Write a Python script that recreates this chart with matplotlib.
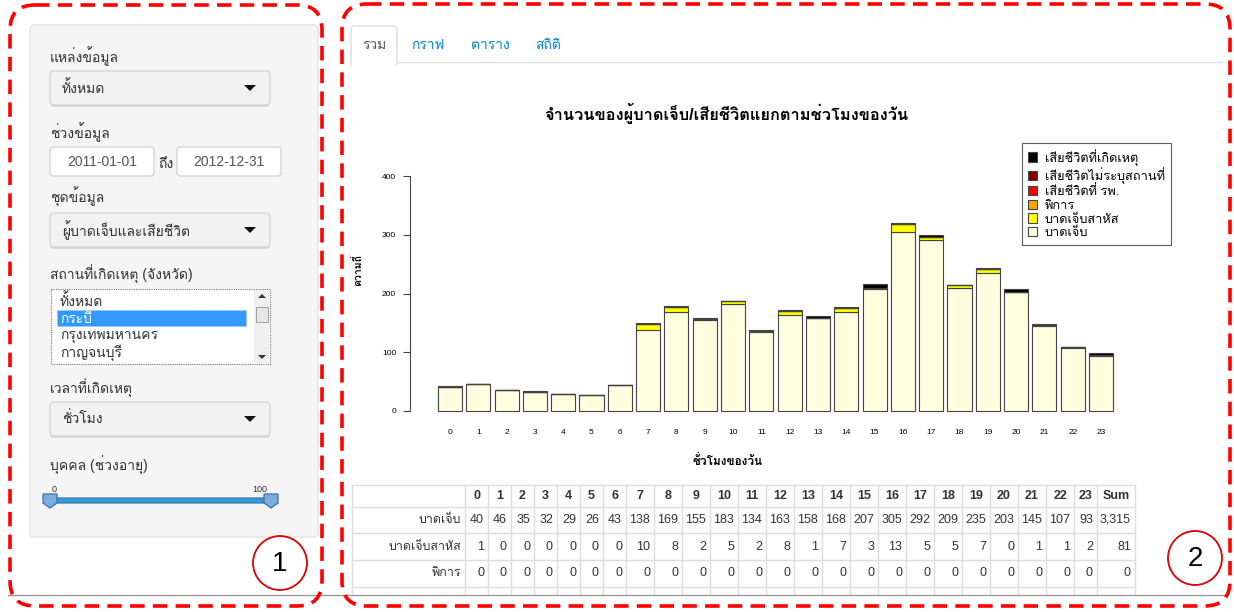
import matplotlib
matplotlib.use("Agg")
import matplotlib.pyplot as plt
import matplotlib.patches as patches
from matplotlib import font_manager
from matplotlib.ft2font import FT2Font

# ---- data ----
hours = list(range(24))
injured = [40, 46, 35, 32, 29, 26, 43, 138, 169, 155, 183, 134,
           163, 158, 168, 207, 305, 292, 209, 235, 203, 145, 107, 93]
severe = [1, 0, 0, 0, 0, 0, 0, 10, 8, 2, 5, 2,
          8, 1, 7, 3, 13, 5, 5, 7, 0, 1, 1, 2]
disabled = [0] * 24
death_hosp = [0] * 24
death_unknown = [0] * 24
death_scene = [1, 0, 1, 1, 0, 0, 0, 1, 2, 1, 0, 2,
               1, 2, 2, 6, 3, 3, 0, 2, 4, 2, 1, 3]

series_labels = ['บาดเจ็บ', 'บาดเจ็บสาหัส', 'พิการ', 'เสียชีวิตที่ รพ.',
                 'เสียชีวิตไม่ระบุสถานที่', 'เสียชีวิตที่เกิดเหตุ']
series_colors = ['#FFFFE0', '#FFFF00', '#FFA500', '#FF0000', '#8B0000', '#000000']

table_rows = ['บาดเจ็บ', 'บาดเจ็บสาหัส', 'พิการ', 'เสียชีวิตที่ รพ.']
provinces = ['ทั้งหมด', 'กระบี่', 'กรุงเทพมหานคร', 'กาญจนบุรี']
tabs = ['รวม', 'กราฟ', 'ตาราง', 'สถิติ']


def thai_family():
    # first installed font that has Thai glyphs
    for f in font_manager.fontManager.ttflist:
        try:
            if 0x0E01 in FT2Font(f.fname).get_charmap():
                return f.name
        except Exception:
            continue
    return None


thai = thai_family()
fam = ['Liberation Sans'] + ([thai] if thai else []) + ['DejaVu Sans']
plt.rcParams['font.family'] = fam

W, H = 1234, 612
fig = plt.figure(figsize=(W / 100, H / 100), dpi=100)
fig.patch.set_facecolor('white')

# background axes in pixel coordinates (y down)
bg = fig.add_axes([0, 0, 1, 1])
bg.set_xlim(0, W)
bg.set_ylim(H, 0)
bg.axis('off')


def fx(x):
    return x / W


def fy(y):
    return 1 - y / H


def rbox(x, y, w, h, r=4, fc='white', ec='#cccccc', lw=1, ls='-', z=1):
    p = patches.FancyBboxPatch((x, y), w, h, boxstyle=f"round,pad=0,rounding_size={r}",
                               facecolor=fc, edgecolor=ec, linewidth=lw, linestyle=ls, zorder=z)
    bg.add_patch(p)
    return p


def caret(x, y):
    bg.add_patch(patches.Polygon([[x - 6, y - 3], [x + 6, y - 3], [x, y + 3]],
                                 closed=True, facecolor='#111', edgecolor='none', zorder=3))


def dropdown(y, text):
    rbox(50, y + 2, 220, 34, r=4, fc='#dcdcdc', ec='none', z=1)
    rbox(50, y, 220, 34, r=4, fc='#f2f2f2', ec='#d0d0d0', lw=0.8, z=2)
    bg.text(62, y + 17, text, fontsize=10, color='#333', va='center', ha='left', zorder=3)
    caret(250, y + 17)


# ================= SIDEBAR =================
rbox(30, 25, 288, 512, r=4, fc='#f5f5f5', ec='#e3e3e3', lw=1)

bg.text(50, 56, 'แหล่งข้อมูล', fontsize=10, color='#333', va='center')
dropdown(71, 'ทั้งหมด')

bg.text(50, 132, 'ช่วงข้อมูล', fontsize=10, color='#333', va='center')
rbox(50, 147, 104, 29, r=3, fc='white', ec='#cccccc', lw=0.8)
bg.text(102, 162, '2011-01-01', fontsize=10, color='#555', ha='center', va='center')
bg.text(166, 164, 'ถึง', fontsize=10, color='#333', ha='center', va='center')
rbox(177, 147, 104, 29, r=3, fc='white', ec='#cccccc', lw=0.8)
bg.text(229, 162, '2012-12-31', fontsize=10, color='#555', ha='center', va='center')

bg.text(50, 197, 'ชุดข้อมูล', fontsize=10, color='#333', va='center')
dropdown(213, 'ผู้บาดเจ็บและเสียชีวิต')

bg.text(50, 274, 'สถานที่เกิดเหตุ (จังหวัด)', fontsize=10, color='#333', va='center')
bg.add_patch(patches.Rectangle((51, 289), 219, 75, facecolor='white', edgecolor='#777',
                               linewidth=0.8, linestyle=(0, (1, 1)), zorder=2))
bg.add_patch(patches.Rectangle((254, 290), 15, 73, facecolor='#f0f0f0', edgecolor='none', zorder=3))
bg.add_patch(patches.Rectangle((256, 307), 12, 15, facecolor='#e6e6e6', edgecolor='#a0a0a0',
                               linewidth=0.7, zorder=4))
bg.add_patch(patches.Polygon([[258, 298], [266, 298], [262, 294]], facecolor='#333', zorder=4))
bg.add_patch(patches.Polygon([[258, 355], [266, 355], [262, 359]], facecolor='#333', zorder=4))
bg.add_patch(patches.Rectangle((57, 310), 189, 16, facecolor='#3399ff', edgecolor='#9cc9ff',
                               linewidth=0.6, linestyle=(0, (1, 1)), zorder=3))
for i, name in enumerate(provinces):
    col = 'white' if i == 1 else '#333'
    bg.text(60, 301 + 17.3 * i, name, fontsize=10, color=col, va='center', zorder=4)

bg.text(50, 388, 'เวลาที่เกิดเหตุ', fontsize=10, color='#333', va='center')
dropdown(402, 'ชั่วโมง')

bg.text(50, 465, 'บุคคล (ช่วงอายุ)', fontsize=10, color='#333', va='center')
bg.text(54, 489, '0', fontsize=6.5, color='#333', ha='center', va='center')
bg.text(260, 489, '100', fontsize=6.5, color='#333', ha='center', va='center')
rbox(50, 498, 221, 5, r=2, fc='#3d98da', ec='#2a73b0', lw=0.8, z=2)
for cx in (50, 271):
    bg.add_patch(patches.Polygon([[cx - 7, 494], [cx + 7, 494], [cx + 7, 503], [cx, 508], [cx - 7, 503]],
                                 closed=True, facecolor='#7aaee0', edgecolor='#3f72a8',
                                 linewidth=0.9, zorder=4))

# ================= TABS =================
bg.add_patch(patches.FancyBboxPatch((351, 26), 46, 40, boxstyle="round,pad=0,rounding_size=4",
                                    facecolor='white', edgecolor='#dddddd', linewidth=1, zorder=2))
bg.add_patch(patches.Rectangle((352, 61), 44, 8, facecolor='white', edgecolor='none', zorder=3))
bg.plot([397, 1222], [62, 62], color='#dddddd', lw=1, zorder=2)
tab_x = [374, 428, 490, 548]
for i, t in enumerate(tabs):
    bg.text(tab_x[i], 45, t, fontsize=10, color='#555' if i == 0 else '#0088cc',
            ha='center', va='center', zorder=4)

# ================= CHART =================
fig.text(fx(726), fy(113), 'จำนวนของผู้บาดเจ็บ/เสียชีวิตแยกตามช่วโมงของวัน',
         fontsize=11.8, fontweight='bold', ha='center', va='center')

ax = fig.add_axes([fx(410), fy(418), (1141 - 410) / W, (418 - 165) / H])
ax.patch.set_alpha(0)
stack = [injured, severe, disabled, death_hosp, death_unknown, death_scene]
bottom = [0] * 24
for vals, col in zip(stack, series_colors):
    ax.bar(hours, vals, width=0.85, bottom=bottom, color=col, edgecolor='#444',
           linewidth=0.8, zorder=2)
    bottom = [b + v for b, v in zip(bottom, vals)]

ax.set_xlim(-1.41, 24.41)
ax.set_ylim(-12.5, 419.5)
for s in ['top', 'right', 'bottom']:
    ax.spines[s].set_visible(False)
ax.spines['left'].set_bounds(0, 400)
ax.spines['left'].set_color('#444')
ax.spines['left'].set_linewidth(0.8)
ax.set_yticks([0, 100, 200, 300, 400])
ax.tick_params(axis='y', length=5, width=0.8, color='#444', labelsize=6, pad=5)
ax.set_xticks(hours)
ax.set_xticklabels([str(h) for h in hours])
ax.tick_params(axis='x', length=0, labelsize=6, pad=8)

fig.text(fx(728), fy(461), 'ชั่วโมงของวัน', fontsize=8.5, fontweight='bold', ha='center', va='center')
fig.text(fx(358), fy(270), 'ความถี่', fontsize=7.5, fontweight='bold', rotation=90,
         ha='center', va='center')

handles = [patches.Patch(facecolor=c, edgecolor='#444', linewidth=0.8)
           for c in series_colors[::-1]]
leg = ax.legend(handles, series_labels[::-1], loc='upper left',
                bbox_to_anchor=(fx(1022), fy(143)), bbox_transform=fig.transFigure,
                fontsize=9.2, frameon=True, fancybox=False, edgecolor='#333',
                handlelength=0.75, handleheight=0.75, handletextpad=0.6,
                labelspacing=0.12, borderpad=0.45, borderaxespad=0)
leg.get_frame().set_linewidth(0.8)

# ================= TABLE =================
sums = [sum(injured), sum(severe), sum(disabled), sum(death_hosp)]
rows = [injured, severe, disabled, death_hosp]
headers = [str(h) for h in hours] + ['Sum']
cells = [[str(v) for v in r] + [f"{s:,}"] for r, s in zip(rows, sums)]

col_x = [352, 465]
for j in range(len(headers)):
    n = max(len(headers[j]), max(len(c[j]) for c in cells[:3]))
    col_x.append(col_x[-1] + 13 + 5 * n)
row_y = [485, 507, 533, 560, 587, 595]
grid = '#dddddd'
for x in col_x:
    bg.plot([x, x], [485, 595], color=grid, lw=1, zorder=2)
for y in row_y[:-1]:
    bg.plot([352, col_x[-1]], [y, y], color=grid, lw=1, zorder=2)

for j, h in enumerate(headers):
    bg.text((col_x[j + 1] + col_x[j + 2]) / 2, 496, h, fontsize=9, fontweight='bold',
            color='#333', ha='center', va='center', zorder=3)
for i in range(3):
    yc = (row_y[i + 1] + row_y[i + 2]) / 2
    bg.text(col_x[1] - 4, yc, table_rows[i], fontsize=9, color='#333', ha='right',
            va='center', zorder=3)
    for j, c in enumerate(cells[i]):
        bg.text(col_x[j + 2] - 4, yc, c, fontsize=9, color='#333', ha='right',
                va='center', zorder=3)

bg.plot([8, 1226], [595, 595], color='#999999', lw=1, zorder=2)

# ================= ANNOTATION FRAMES =================
dash = (0, (4, 2.3))
rbox(10, 5, 312, 601, r=25, fc='none', ec='#ff0000', lw=2.6, ls=dash, z=6)
rbox(342, 4, 888, 602, r=25, fc='none', ec='#ff0000', lw=2.6, ls=dash, z=6)
for cx, cy, t in [(280, 563, '1'), (1195, 558, '2')]:
    bg.add_patch(patches.Circle((cx, cy), 27, facecolor='white', edgecolor='#e00000',
                                linewidth=1.3, zorder=6))
    bg.text(cx, cy + 1, t, fontsize=20, color='black', ha='center', va='center', zorder=7)

fig.savefig('out.png', dpi=100)
